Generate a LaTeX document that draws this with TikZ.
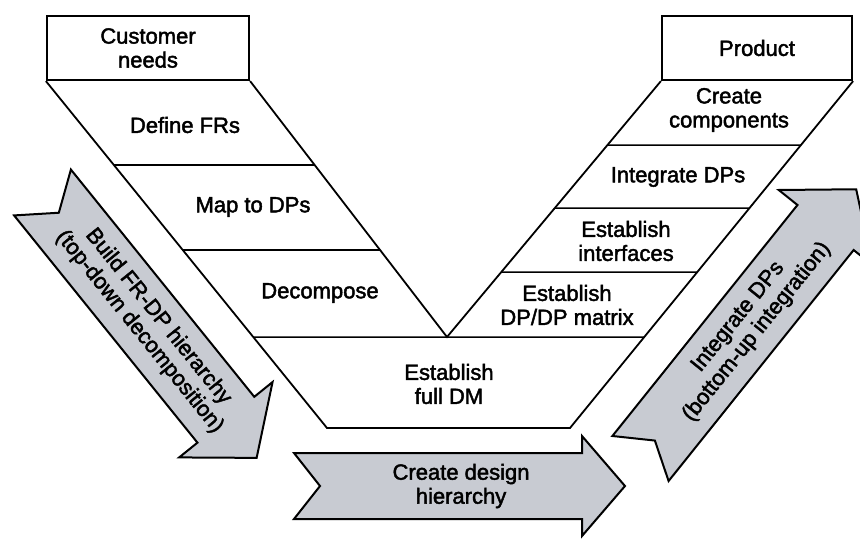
\documentclass[tikz,border=0pt]{standalone}
\usepackage{fontspec}
\setmainfont{Liberation Sans}
\newfontfamily\labelfont{Liberation Sans}[FakeBold=2]
\definecolor{arrowgray}{RGB}{200,203,210}

% block arrow with a notched tail and a text inside
% #1 name, #2 tail centre, #3 angle, #4 shaft length, #5 half shaft width,
% #6 half head width, #7 head length, #8 notch depth, #9 text
\newcommand{\blockarrow}[9]{%
  \begin{scope}[shift={#2}, rotate=#3]
    \draw[arrowbody] (0,#5) -- (#4,#5) -- (#4,#6) -- ({#4+#7},0) -- (#4,-#6)
      -- (#4,-#5) -- (0,-#5) -- (#8,0) -- cycle;
    \node[label, rotate=#3] (#1) at ({0.58*#4},0) {#9};
  \end{scope}}

\begin{document}
\begin{tikzpicture}[x=1pt, y=-1pt, line join=miter,
  frame/.style={draw=black, line width=2.2pt, minimum height=64pt, inner sep=0pt},
  band/.style={draw=black, line width=1.8pt},
  rung/.style={draw=black, line width=1.5pt},
  label/.style={font=\labelfont\fontsize{22}{24}\selectfont, align=center, inner sep=0pt},
  arrowbody/.style={draw=black, line width=2pt, fill=arrowgray, line join=miter},
]
\path[use as bounding box] (0,0) rectangle (860,539);
\clip (0,0) rectangle (860,539);
\fill[white] (0,0) rectangle (860,539);

% top boxes
\node[frame, label, minimum width=202pt] (cn) at (148,48) {Customer\\needs};
\node[frame, label, minimum width=190pt] (pr) at (757,48) {Product};

% the V-shaped band
\coordinate (lb) at (327,428);
\coordinate (rb) at (570,428);
\coordinate (v)  at (447,337);
\draw[band] (cn.south west) -- (lb) -- (rb) -- (pr.south east);
\draw[band] (cn.south east) -- (v) -- (pr.south west);

% rungs of the left leg
\draw[rung] (intersection of cn.south west--lb and 0,165--10,165)
         -- (intersection of cn.south east--v and 0,165--10,165);
\draw[rung] (intersection of cn.south west--lb and 0,250--10,250)
         -- (intersection of cn.south east--v and 0,250--10,250);
% rungs of the right leg
\draw[rung] (intersection of pr.south west--v and 0,145--10,145)
         -- (intersection of pr.south east--rb and 0,145--10,145);
\draw[rung] (intersection of pr.south west--v and 0,208--10,208)
         -- (intersection of pr.south east--rb and 0,208--10,208);
\draw[rung] (intersection of pr.south west--v and 0,272--10,272)
         -- (intersection of pr.south east--rb and 0,272--10,272);
% common rung at the bottom of the V
\draw[rung] (intersection of cn.south west--lb and 0,337--10,337)
         -- (intersection of pr.south east--rb and 0,337--10,337);

% step labels
\node[label] (dfr) at (185,125) {Define FRs};
\node[label] (mdp) at (253,207) {Map to DPs};
\node[label] (dec) at (320,293) {Decompose};
\node[label] (fdm) at (449,384) {Establish\\full DM};
\node[label] (ccp) at (729,110) {Create\\components};
\node[label] (idp) at (678,177) {Integrate DPs};
\node[label] (ein) at (626,241) {Establish\\interfaces};
\node[label] (edm) at (567,305) {Establish\\DP/DP matrix};

% process arrows
\blockarrow{bfr}{(42.5,192.5)}{-51.1}{292}{36.5}{60}{49}{26}{Build FR-DP hierarchy\\(top-down decomposition)}
\blockarrow{cdh}{(294,486)}{0}{288}{33}{50}{43}{26}{Create design\\hierarchy}
\blockarrow{idb}{(640.5,458.5)}{51.3}{296}{36}{60}{49}{23}{Integrate DPs\\(bottom-up integration)}
\end{tikzpicture}
\end{document}
